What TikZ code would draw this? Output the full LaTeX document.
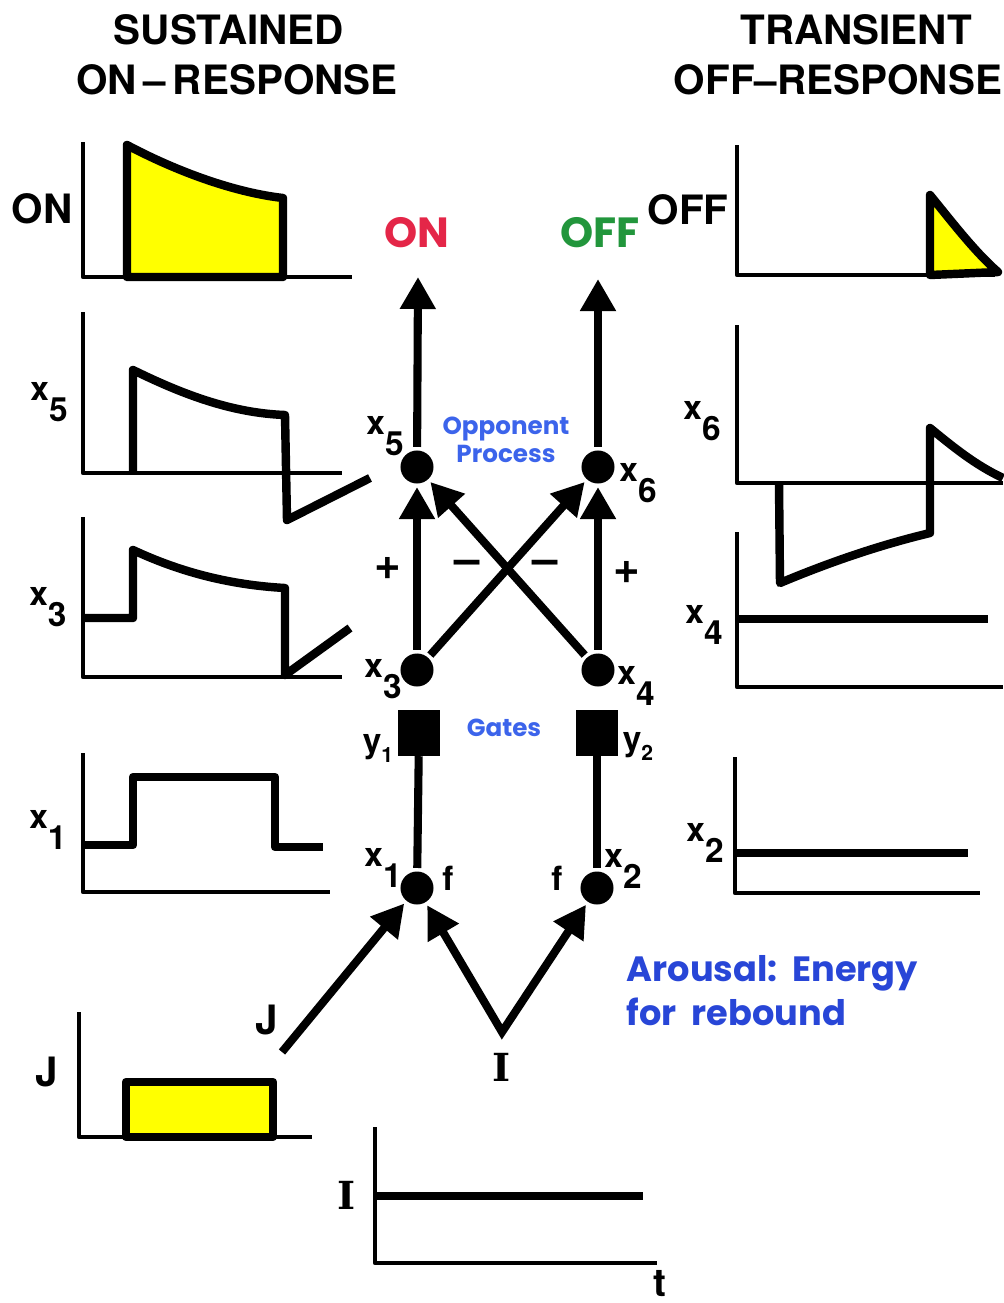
\documentclass[tikz,border=0pt]{standalone}
\usepackage{fontspec}
\setmainfont{TeX Gyre Heros}
\newfontfamily\geofont{Poppins}
\newfontfamily\slabfont{DejaVu Serif}
\usetikzlibrary{arrows.meta}
\definecolor{onred}{RGB}{228,38,72}
\definecolor{offgreen}{RGB}{34,150,60}
\definecolor{noteblue}{RGB}{40,70,215}
\definecolor{gateblue}{RGB}{60,100,235}
\definecolor{pulse}{RGB}{255,255,0}
\newcommand{\xsub}[2]{#1\raisebox{-0.62em}{#2}}
\newcommand{\ysub}[2]{#1\raisebox{-0.3em}{\fontsize{6}{6}\selectfont #2}}
\begin{document}
\begin{tikzpicture}[x=0.01cm,y=-0.01cm,>={Triangle[width=0.34cm,length=0.32cm]},line join=round,
  axis/.style={line width=1.3pt},
  wave/.style={line width=2.4pt},
  unit/.style={circle,fill,inner sep=0pt,minimum size=0.33cm,outer sep=1pt},
  gate/.style={fill,inner sep=0pt,minimum width=0.42cm,minimum height=0.45cm},
  link/.style={line width=2.3pt,->},
  title/.style={font=\bfseries\fontsize{11.5}{12}\selectfont},
  varlbl/.style={font=\bfseries\fontsize{9.5}{10}\selectfont,inner sep=0pt},
  sign/.style={font=\bfseries\fontsize{13}{13}\selectfont,inner sep=0pt},
  slab/.style={font=\slabfont\bfseries\fontsize{11}{12}\selectfont,inner sep=0pt},
  note/.style={font=\geofont\bfseries\fontsize{7}{8}\selectfont,text=gateblue,align=center}]
\useasboundingbox (0,0) rectangle (1003,1303);

% titles
\node[title] (susttitle) at (229,30) {SUSTAINED};
\node[title] (ontitle) at (237,80) {ON\,--\,RESPONSE};
\node[title] (transtitle) at (856,30) {TRANSIENT};
\node[title] (offtitle) at (838,80) {OFF--RESPONSE};

% left column of traces
\draw[axis] (83,142) -- (83,277) -- (352,277);
\filldraw[wave,fill=pulse] (127,277) -- (127,145) .. controls (170,168) and (230,192) .. (283,198) -- (283,277) -- cycle;
\node[title,inner sep=0pt] (lon) at (42,209) {ON};

\draw[axis] (83,312) -- (83,473) -- (342,473);
\draw[wave] (133,473) -- (133,370) .. controls (180,393) and (230,413) .. (285,415) -- (287,520) -- (370,478);
\node[varlbl] (lx5) at (49,402) {\xsub{x}{5}};

\draw[axis] (83,517) -- (83,677) -- (342,677);
\draw[wave] (83,618) -- (133,618) -- (133,550) .. controls (180,572) and (230,585) .. (285,588) -- (285,675) -- (350,628);
\node[varlbl] (lx3) at (48,607) {\xsub{x}{3}};

\draw[axis] (83,753) -- (83,892) -- (330,892);
\draw[wave] (83,845) -- (133,845) -- (133,777) -- (275,777) -- (275,847) -- (323,847);
\node[varlbl] (lx1) at (48,830) {\xsub{x}{1}};

\draw[axis] (79,1012) -- (79,1137) -- (312,1137);
\filldraw[wave,fill=pulse] (126,1137) rectangle (273,1082);
\node[title,inner sep=0pt] (lj) at (47,1072) {J};

\draw[axis] (375,1127) -- (375,1263) -- (657,1263);
\draw[wave] (375,1196) -- (643,1196);
\node[slab] (li) at (347,1195) {I};
\node[font=\bfseries\fontsize{11}{12}\selectfont,inner sep=0pt] (lt) at (660,1284) {t};

% right column of traces
\draw[axis] (737,145) -- (737,275) -- (995,275);
\filldraw[wave,fill=pulse] (930,275) -- (930,195) .. controls (952,222) and (975,252) .. (998,272) -- cycle;
\node[title,inner sep=0pt] (loff) at (688,210) {OFF};

\draw[axis] (737,325) -- (737,483) -- (1003,483);
\draw[wave] (779,483) -- (780,583) .. controls (830,562) and (880,545) .. (930,533) -- (930,428) .. controls (952,446) and (975,465) .. (1003,478);
\node[varlbl] (lx6) at (702,421) {\xsub{x}{6}};

\draw[axis] (737,532) -- (737,687) -- (1003,687);
\draw[wave] (737,619) -- (988,619);
\node[varlbl] (lx4) at (704,625) {\xsub{x}{4}};

\draw[axis] (735,757) -- (735,893) -- (980,893);
\draw[wave] (735,853) -- (968,853);
\node[varlbl] (lx2) at (705,843) {\xsub{x}{2}};

% network
\node[unit] (x5) at (417,467) {};
\node[unit] (x6) at (598,467) {};
\node[unit] (x3) at (417,670) {};
\node[unit] (x4) at (598,670) {};
\node[gate] (y1) at (419,733) {};
\node[gate] (y2) at (597,733) {};
\node[unit] (x1) at (417,888) {};
\node[unit] (x2) at (597,888) {};
\coordinate (ontip) at (418,277);
\coordinate (offtip) at (598,279);
\coordinate (jtail) at (282,1052);
\coordinate (ijoin) at (502,1032);

\node[font=\geofont\bfseries\fontsize{12}{13}\selectfont,text=onred] (onout) at (417,233) {ON};
\node[font=\geofont\bfseries\fontsize{12}{13}\selectfont,text=offgreen] (offout) at (600,233) {OFF};

\draw[link] (x5) -- (ontip);
\draw[link] (x6) -- (offtip);
\draw[link] (x3) -- (x5);
\draw[link] (x4) -- (x6);
\draw[link] (x3) -- (x6);
\draw[link] (x4) -- (x5);
\draw[line width=2.3pt] (x1) -- (y1);
\draw[line width=2.3pt] (x2) -- (y2);
\draw[link] (jtail) -- (x1);
\draw[link,<->,line join=miter] (x1) -- (ijoin) -- (x2);

\node[varlbl] (nx5) at (385,436) {\xsub{x}{5}};
\node[varlbl] (nx6) at (638,483) {\xsub{x}{6}};
\node[varlbl] (nx3) at (383,679) {\xsub{x}{3}};
\node[varlbl] (nx4) at (636,686) {\xsub{x}{4}};
\node[varlbl] (nx1) at (383,868) {\xsub{x}{1}};
\node[varlbl] (nx2) at (623,869) {\xsub{x}{2}};
\node[varlbl] (ny1) at (378,748) {\ysub{y}{1}};
\node[varlbl] (ny2) at (638,746) {\ysub{y}{2}};
\node[varlbl] (f1) at (448,878) {f};
\node[varlbl] (f2) at (557,878) {f};
\node[title,inner sep=0pt] (nj) at (267,1020) {J};
\node[slab] (ni) at (502,1067) {I};

\node[sign] (plus1) at (388,568) {+};
\node[sign] (minus1) at (467,567) {--};
\node[sign] (minus2) at (545,567) {--};
\node[sign] (plus2) at (627,572) {+};

\node[note] (opp) at (506,440) {Opponent\\Process};
\node[note] (gates) at (504,728) {Gates};
\node[font=\geofont\bfseries\fontsize{10}{12.5}\selectfont,text=noteblue,align=left,anchor=west,inner sep=0pt] (arousal) at (626,991) {Arousal:\ \ Energy\\for\ \ rebound};
\end{tikzpicture}
\end{document}
